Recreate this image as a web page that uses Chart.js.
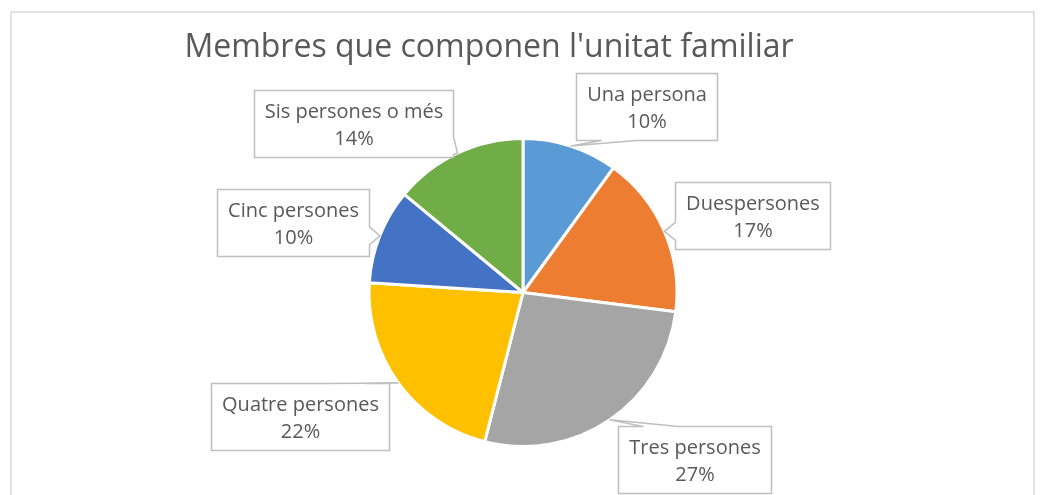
<!DOCTYPE html>
<html>
<head>
<meta charset="utf-8">
<script src="https://cdn.jsdelivr.net/npm/chart.js@4.4.1/dist/chart.umd.min.js"></script>
<style>
  html, body { margin: 0; padding: 0; background: #ffffff; }
  #wrap { width: 1041px; height: 495px; }
</style>
</head>
<body>
<div id="wrap"><canvas id="c" width="1041" height="495"></canvas></div>
<script>
// ---- data ----
const chartTitle = "Membres que componen l'unitat familiar";
const categories = ['Una persona', 'Duespersones', 'Tres persones', 'Quatre persones', 'Cinc persones', 'Sis persones o més'];
const percentages = [10, 17, 27, 22, 10, 14];

// ---- style / layout (not data) ----
const sliceColors = ['#5B9BD5', '#ED7D31', '#A5A5A5', '#FFC000', '#4472C4', '#70AD47'];
// callout box centre offset from the slice's outer mid-point
const calloutOffsets = [[76, -40], [88, -16], [85, 40], [-98, 33], [-87, -13], [-104, -30]];
const FONT = '"Open Sans", "Noto Sans", sans-serif';
const TEXT_COLOR = '#595959';

function calloutPath(ctx, x0, y0, x1, y1, tx, ty) {
  let side;
  if (ty > y1) side = 'bottom';
  else if (ty < y0) side = 'top';
  else if (tx < x0) side = 'left';
  else side = 'right';
  let b1, b2;
  if (side === 'top' || side === 'bottom') {
    if (tx < x0) { b1 = x0 + 25; b2 = x0 + 60; }
    else if (tx > x1) { b1 = x1 - 60; b2 = x1 - 25; }
    else { const c = Math.min(Math.max(tx, x0 + 12), x1 - 12); b1 = c - 9; b2 = c + 9; }
  } else {
    const c = Math.min(Math.max(ty, y0 + 12), y1 - 12); b1 = c - 9; b2 = c + 9;
  }
  ctx.beginPath();
  ctx.moveTo(x0, y0);
  if (side === 'top') { ctx.lineTo(b1, y0); ctx.lineTo(tx, ty); ctx.lineTo(b2, y0); }
  ctx.lineTo(x1, y0);
  if (side === 'right') { ctx.lineTo(x1, b1); ctx.lineTo(tx, ty); ctx.lineTo(x1, b2); }
  ctx.lineTo(x1, y1);
  if (side === 'bottom') { ctx.lineTo(b2, y1); ctx.lineTo(tx, ty); ctx.lineTo(b1, y1); }
  ctx.lineTo(x0, y1);
  if (side === 'left') { ctx.lineTo(x0, b2); ctx.lineTo(tx, ty); ctx.lineTo(x0, b1); }
  ctx.closePath();
}

const decorPlugin = {
  id: 'decor',
  beforeDraw(chart) {
    const ctx = chart.ctx;
    ctx.save();
    ctx.fillStyle = '#ffffff';
    ctx.fillRect(0, 0, chart.width, chart.height);
    ctx.strokeStyle = '#d9d9d9';
    ctx.lineWidth = 1.5;
    ctx.strokeRect(11, 12, 1023, 500);
    // title
    ctx.fillStyle = TEXT_COLOR;
    ctx.font = '32px ' + FONT;
    ctx.textAlign = 'center';
    ctx.textBaseline = 'alphabetic';
    ctx.fillText(chartTitle, 489, 57);
    ctx.restore();
  },
  afterDraw(chart) {
    const ctx = chart.ctx;
    const meta = chart.getDatasetMeta(0);
    ctx.save();
    ctx.font = '20px ' + FONT;
    meta.data.forEach((arc, i) => {
      const p = arc.getProps(['x', 'y', 'startAngle', 'endAngle', 'outerRadius'], true);
      const mid = (p.startAngle + p.endAngle) / 2;
      const tx = p.x + Math.cos(mid) * p.outerRadius;
      const ty = p.y + Math.sin(mid) * p.outerRadius;
      const line1 = categories[i];
      const line2 = percentages[i] + '%';
      const w = Math.max(ctx.measureText(line1).width, ctx.measureText(line2).width) + 21;
      const h = 67;
      const cx = tx + calloutOffsets[i][0];
      const cy = ty + calloutOffsets[i][1];
      const x0 = Math.round(cx - w / 2) + 0.5, x1 = Math.round(cx + w / 2) + 0.5;
      const y0 = Math.round(cy - h / 2) + 0.5, y1 = Math.round(cy + h / 2) + 0.5;
      calloutPath(ctx, x0, y0, x1, y1, tx, ty);
      ctx.fillStyle = '#ffffff';
      ctx.fill();
      ctx.strokeStyle = '#bfbfbf';
      ctx.lineWidth = 1.5;
      ctx.stroke();
      ctx.fillStyle = TEXT_COLOR;
      ctx.textAlign = 'center';
      ctx.textBaseline = 'alphabetic';
      const mx = (x0 + x1) / 2, my = (y0 + y1) / 2;
      ctx.fillText(line1, mx, my - 6);
      ctx.fillText(line2, mx, my + 21);
    });
    ctx.restore();
  }
};

new Chart(document.getElementById('c'), {
  type: 'pie',
  data: {
    labels: categories,
    datasets: [{
      data: percentages,
      backgroundColor: sliceColors,
      borderColor: '#ffffff',
      borderWidth: 3,
      hoverOffset: 0,
      offset: 0
    }]
  },
  options: {
    responsive: false,
    animation: false,
    devicePixelRatio: 1,
    layout: { padding: { top: 137, bottom: 47, left: 367, right: 362 } },
    plugins: {
      legend: { display: false },
      tooltip: { enabled: false },
      title: { display: false }
    },
    events: []
  },
  plugins: [decorPlugin]
});
</script>
</body>
</html>
